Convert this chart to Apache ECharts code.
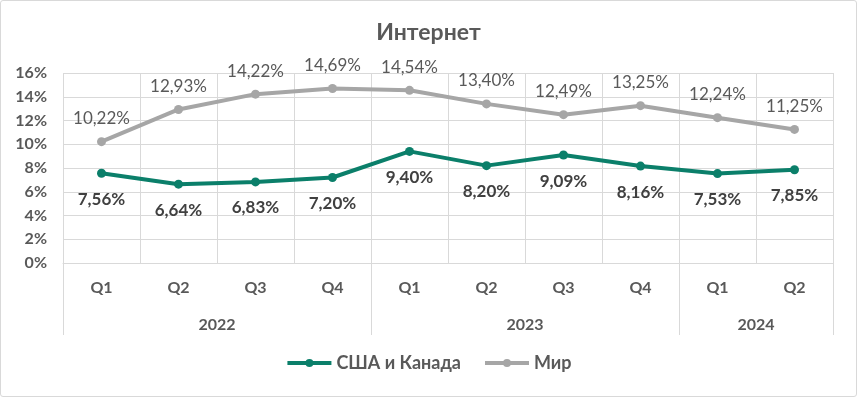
<!DOCTYPE html>
<html>
<head>
<meta charset="utf-8">
<script src="https://cdn.jsdelivr.net/npm/echarts@6/dist/echarts.min.js"></script>
<style>
    body { margin: 0; background: #fff; }
    #frame { position: absolute; left: 0; top: 0; width: 855px; height: 395px; border: 1px solid #d9d9d9; border-radius: 3px; }
    #chartDiv { position: absolute; left: 0; top: 0; width: 857px; height: 398px; }
</style>
</head>
<body>
<div id="frame"></div>
<div id="chartDiv"></div>
<script>
    // данные
    var quarters = ['Q1', 'Q2', 'Q3', 'Q4', 'Q1', 'Q2', 'Q3', 'Q4', 'Q1', 'Q2'];
    var years = ['2022', '2023', '2024'];
    var yearBounds = [0, 4, 8, 10];    // границы годов в кварталах
    var yearCenters = [2, 6, 9];
    var usaCanada = [7.56, 6.64, 6.83, 7.20, 9.40, 8.20, 9.09, 8.16, 7.53, 7.85];
    var world = [10.22, 12.93, 14.22, 14.69, 14.54, 13.40, 12.49, 13.25, 12.24, 11.25];

    var font = 'Lato, "Open Sans", sans-serif';
    var gridColor = '#d9d9d9';
    var textColor = '#595959';

    function pct(v) {
        return v.toFixed(2).replace('.', ',') + '%';
    }

    var chart = echarts.init(document.getElementById('chartDiv'));
    chart.setOption({
        animation: false,
        title: {
            text: 'Интернет',
            left: 'center',
            top: 16,
            textStyle: { fontFamily: font, fontSize: 23, fontWeight: 'bold', color: textColor }
        },
        legend: {
            bottom: 21,
            left: 'center',
            itemWidth: 44,
            itemHeight: 10,
            itemGap: 22,
            lineStyle: { width: 4 },
            textStyle: { fontFamily: font, fontSize: 18, fontWeight: 'bold', color: textColor },
            data: ['США и Канада', 'Мир']
        },
        grid: { left: 63, right: 24, top: 73, bottom: 135, containLabel: false },
        xAxis: [{
            type: 'category',
            data: quarters,
            boundaryGap: true,
            axisLine: { show: true, lineStyle: { color: gridColor } },
            axisTick: { show: false },
            splitLine: { show: true, lineStyle: { color: gridColor } },
            axisLabel: { margin: 17, fontFamily: font, fontSize: 16, fontWeight: 'bold', color: textColor }
        }, {
            type: 'value',
            position: 'bottom',
            min: 0,
            max: 10,
            axisLine: { show: false },
            splitLine: { show: false },
            axisTick: { show: true, length: 72, customValues: yearBounds, lineStyle: { color: gridColor } },
            axisLabel: {
                margin: 54,
                customValues: yearCenters,
                formatter: function (v) { return years[yearCenters.indexOf(v)]; },
                fontFamily: font, fontSize: 16, fontWeight: 'bold', color: textColor
            }
        }],
        yAxis: {
            type: 'value',
            min: 0,
            max: 16,
            interval: 2,
            axisLine: { show: false },
            axisTick: { show: false },
            splitLine: { lineStyle: { color: gridColor } },
            axisLabel: {
                margin: 16,
                formatter: function (v) { return v + '%'; },
                fontFamily: font, fontSize: 16, fontWeight: 'bold', color: textColor
            }
        },
        series: [{
            name: 'США и Канада',
            type: 'line',
            data: usaCanada,
            symbol: 'circle',
            symbolSize: 9,
            color: '#0b7f6a',
            lineStyle: { width: 4 },
            label: {
                show: true,
                position: 'bottom',
                distance: 13,
                formatter: function (p) { return pct(p.value); },
                fontFamily: font, fontSize: 17, fontWeight: 'bold', color: '#404040'
            }
        }, {
            name: 'Мир',
            type: 'line',
            data: world,
            symbol: 'circle',
            symbolSize: 9,
            color: '#a6a6a6',
            lineStyle: { width: 4 },
            label: {
                show: true,
                position: 'top',
                distance: 10,
                formatter: function (p) { return pct(p.value); },
                fontFamily: font, fontSize: 17, color: textColor
            }
        }]
    });
</script>
</body>
</html>
